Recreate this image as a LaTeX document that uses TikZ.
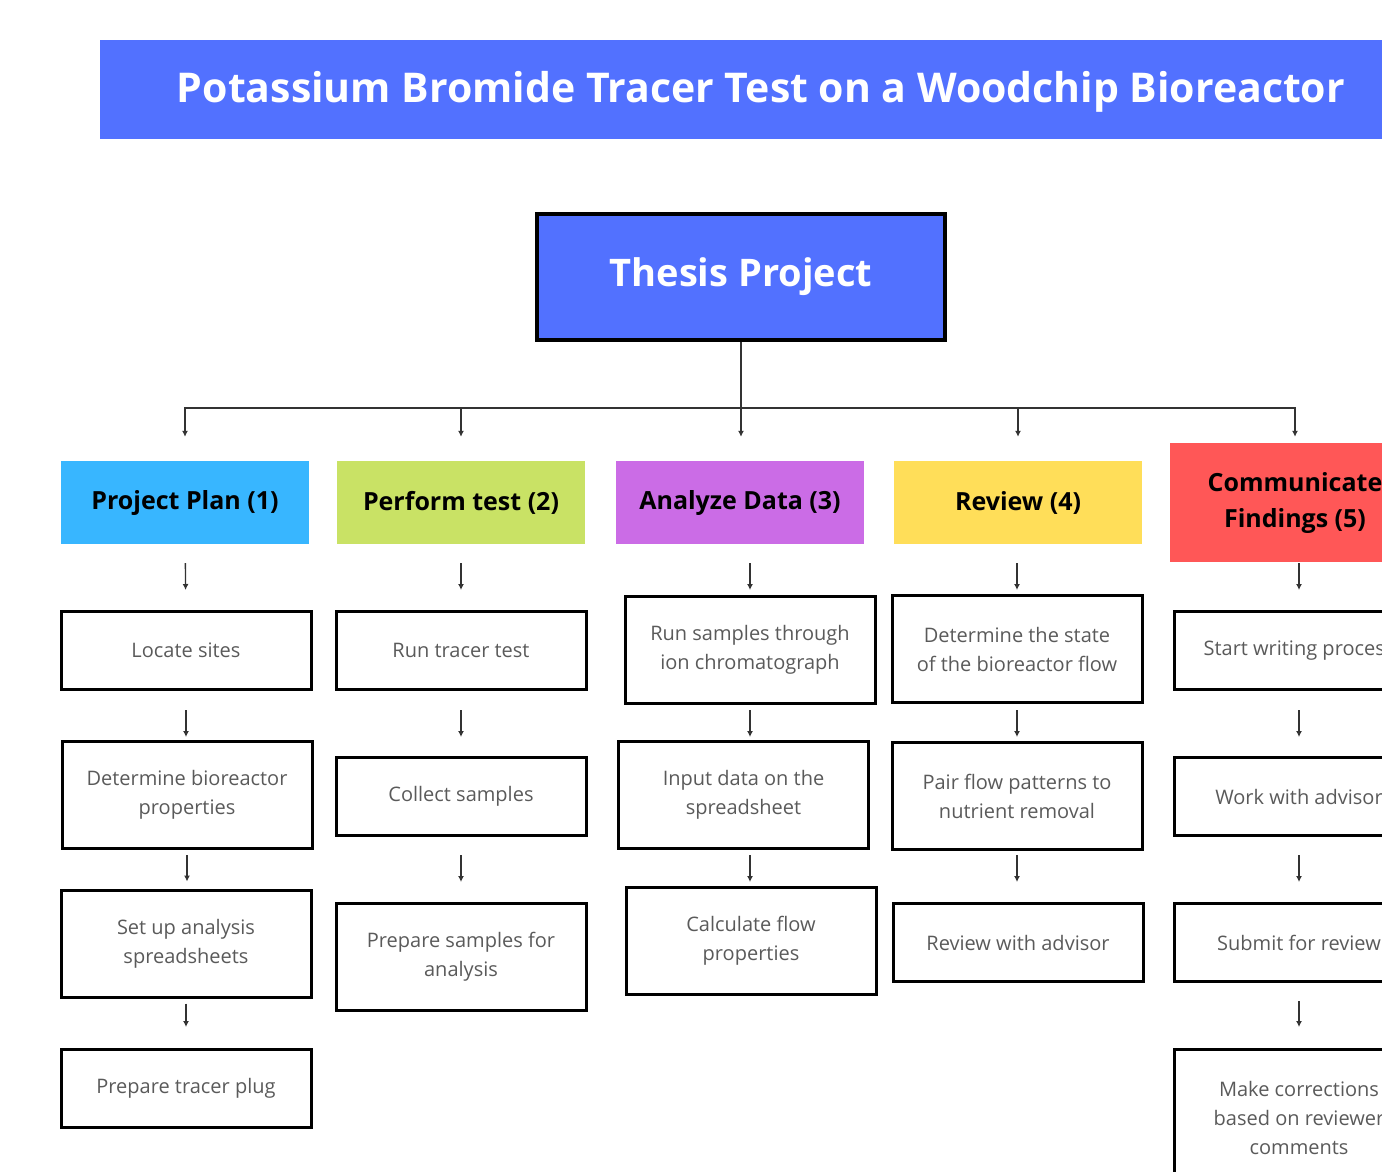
\documentclass[tikz,border=0pt]{standalone}
\usepackage{fontspec}
\setmainfont{Open Sans}
\usetikzlibrary{arrows.meta}

\definecolor{bandblue}{HTML}{5271FF}
\definecolor{planblue}{HTML}{38B6FF}
\definecolor{testgreen}{HTML}{C9E265}
\definecolor{datapurple}{HTML}{CB6CE6}
\definecolor{reviewyellow}{HTML}{FFDE59}
\definecolor{findred}{HTML}{FF5757}
\definecolor{stepgray}{HTML}{5A5A5A}
\definecolor{linegray}{HTML}{333333}

\begin{document}
\begin{tikzpicture}[x=1pt, y=-1pt,
    catbox/.style={minimum width=248pt, minimum height=83pt, inner sep=0pt, align=center,
        font=\fontsize{25}{36}\selectfont\bfseries},
    taskbox/.style={draw=black, line width=3pt, minimum width=250pt, minimum height=78pt,
        inner sep=0pt, align=center, text=stepgray, font=\fontsize{20}{29}\selectfont},
    tallbox/.style={taskbox, minimum height=107pt},
    arr/.style={draw=linegray, line width=1.4pt, -{Latex[length=6pt, width=6pt]}}]

    \useasboundingbox (0, 0) rectangle (1382, 1171);
    \clip (0, 0) rectangle (1382, 1171);

    % title band
    \fill[bandblue] (100, 40) rectangle (1400, 139);
    \node[text=white, font=\fontsize{41}{48}\selectfont\bfseries] (title) at (761, 92)
        {Potassium Bromide Tracer Test on a Woodchip Bioreactor};

    \node[draw=black, fill=bandblue, line width=4pt, minimum width=408pt, minimum height=126pt,
        text=white, font=\fontsize{38}{44}\selectfont\bfseries] (thesis) at (741, 277) {Thesis Project};
    \coordinate (hub) at (741, 408);

    % categories
    \node[catbox, fill=planblue] (cat1) at (185, 502.5) {Project Plan (1)};
    \node[catbox, fill=testgreen] (cat2) at (461, 502.5) {Perform test (2)};
    \node[catbox, fill=datapurple] (cat3) at (740, 502.5) {Analyze Data (3)};
    \node[catbox, fill=reviewyellow] (cat4) at (1018, 502.5) {Review (4)};
    \node[catbox, fill=findred, minimum width=250pt, minimum height=119pt] (cat5) at (1295, 502.5)
        {Communicate\\Findings (5)};

    % tasks
    \node[taskbox] (plan1) at (186, 650.5) {Locate sites};
    \node[tallbox] (plan2) at (187, 795) {Determine bioreactor\\properties};
    \node[tallbox] (plan3) at (186, 943.5) {Set up analysis\\spreadsheets};
    \node[taskbox] (plan4) at (186, 1088.5) {Prepare tracer plug};

    \node[taskbox] (test1) at (461, 650.5) {Run tracer test};
    \node[taskbox] (test2) at (461, 796.5) {Collect samples};
    \node[tallbox] (test3) at (461, 957) {Prepare samples for\\analysis};

    \node[tallbox] (data1) at (750, 650) {Run samples through\\ion chromatograph};
    \node[tallbox] (data2) at (743.5, 795) {Input data on the\\spreadsheet};
    \node[tallbox] (data3) at (751, 941) {Calculate flow\\properties};

    \node[tallbox] (rev1) at (1017, 649) {Determine the state\\of the bioreactor flow};
    \node[tallbox] (rev2) at (1017, 796) {Pair flow patterns to\\nutrient removal};
    \node[taskbox] (rev3) at (1018, 942.5) {Review with advisor};

    \node[taskbox] (find1) at (1299, 650.5) {Start writing process};
    \node[taskbox] (find2) at (1299, 796.5) {Work with advisor};
    \node[taskbox] (find3) at (1299, 942.5) {Submit for review};
    \node[taskbox, minimum height=137pt] (find4) at (1299, 1118) {Make corrections\\based on reviewer\\comments};

    % tree
    \draw[draw=linegray, line width=1.4pt] (thesis) -- (hub);
    \draw[arr, shorten >=24pt] (hub) -| (cat1);
    \draw[arr, shorten >=24pt] (hub) -| (cat2);
    \draw[arr, shorten >=24pt] (hub) -- (hub |- cat3.north);
    \draw[arr, shorten >=24pt] (hub) -| (cat4);
    \draw[arr, shorten >=6pt] (hub) -| (cat5);

    % column arrows
    \draw[arr, shorten <=19pt, shorten >=20pt] (cat1) -- (plan1);
    \draw[arr, shorten <=19pt, shorten >=3pt] (plan1) -- (plan1 |- plan2.north);
    \draw[arr, shorten <=5pt, shorten >=7pt] (plan2) -- (plan2 |- plan3.north);
    \draw[arr, shorten <=5pt, shorten >=21pt] (plan3) -- (plan4);

    \draw[arr, shorten <=19pt, shorten >=20pt] (cat2) -- (test1);
    \draw[arr, shorten <=19pt, shorten >=19pt] (test1) -- (test2);
    \draw[arr, shorten <=18pt, shorten >=20pt] (test2) -- (test3);

    \draw[arr, shorten <=19pt, shorten >=5pt] (data1 |- cat3.south) -- (data1);
    \draw[arr, shorten <=5pt, shorten >=3pt] (data1) -- (data1 |- data2.north);
    \draw[arr, shorten <=5pt, shorten >=4pt] (data1 |- data2.south) -- (data1 |- data3.north);

    \draw[arr, shorten <=19pt, shorten >=4pt] (rev1 |- cat4.south) -- (rev1);
    \draw[arr, shorten <=6pt, shorten >=4pt] (rev1) -- (rev2);
    \draw[arr, shorten <=4pt, shorten >=20pt] (rev2) -- (rev2 |- rev3.north);

    \draw[arr, shorten <=1pt, shorten >=20pt] (find1 |- cat5.south) -- (find1);
    \draw[arr, shorten <=19pt, shorten >=19pt] (find1) -- (find2);
    \draw[arr, shorten <=18pt, shorten >=20pt] (find2) -- (find3);
    \draw[arr, shorten <=18pt, shorten >=21pt] (find3) -- (find4);

\end{tikzpicture}
\end{document}
